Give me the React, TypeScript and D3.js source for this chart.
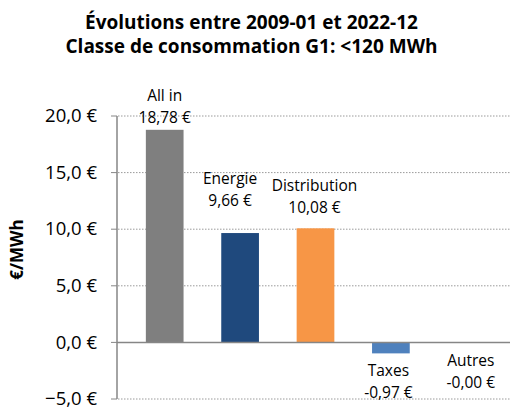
import React from "react";
import * as d3 from "d3";

const categories = ["All in", "Energie", "Distribution", "Taxes", "Autres"];
const values = [18.78, 9.66, 10.08, -0.97, -0.0];
const valueLabels = ["18,78 €", "9,66 €", "10,08 €", "-0,97 €", "-0,00 €"];
const colors = ["#7f7f7f", "#1f497d", "#f79646", "#4f81bd", "#4f81bd"];
const yTicks = [-5, 0, 5, 10, 15, 20];
const titleLines = ["Évolutions entre 2009-01 et 2022-12", "Classe de consommation G1: <120 MWh"];
const yAxisTitle = "€/MWh";

// label placement tweaks (layout only)
const labelDx = [0, -10, -1, -2.5, 4.5];
const labelDy = [-29, -49, -37, 23, 24];

const W = 511;
const H = 410;
const fontFam = "'Open Sans', Lato, sans-serif";

export default function App() {
  const x = d3.scaleBand<string>().domain(categories).range([127, 504]).paddingInner(0.5).paddingOuter(0.25);
  const y = d3.scaleLinear().domain([-5, 20]).range([399, 116]);
  const fmt = (v: number) => d3.format(".1f")(v).replace(".", ",") + " €";
  const bw = x.bandwidth();

  return (
    <svg width={W} height={H} style={{ position: "absolute", left: 0, top: 0, background: "#fff" }} fontFamily={fontFam}>
      {titleLines.map((t, i) => (
        <text key={i} x={251.5} y={28.5 + i * 24} textAnchor="middle" fontWeight="bold" fontSize={19} fill="#000">
          {t}
        </text>
      ))}
      {yTicks.map((t) => (
        <g key={t}>
          {t !== 0 && (
            <line x1={118} x2={510} y1={y(t)} y2={y(t)} stroke="#9a9a9a" strokeWidth={1} strokeDasharray="1.5,1.5" />
          )}
          <line x1={111} x2={117} y1={y(t)} y2={y(t)} stroke="#868686" strokeWidth={1} />
          <text x={97} y={y(t) + 6.2} textAnchor="end" fontSize={18.5} fill="#000">
            {fmt(t)}
          </text>
        </g>
      ))}
      <line x1={117} x2={117} y1={y(20)} y2={y(-5)} stroke="#868686" strokeWidth={1.5} />
      {categories.map((c, i) => {
        const v = values[i];
        const x0 = x(c)!;
        const top = y(Math.max(0, v));
        const bot = y(Math.min(0, v));
        return <rect key={c} x={x0} y={top} width={bw} height={Math.max(0, bot - top)} fill={colors[i]} />;
      })}
      <line x1={117} x2={510} y1={y(0)} y2={y(0)} stroke="#868686" strokeWidth={1.5} />
      {categories.map((c, i) => {
        const v = values[i];
        const cx = x(c)! + bw / 2 + labelDx[i];
        const anchor = v > 0 ? y(v) : y(Math.min(0, v));
        const b1 = anchor + labelDy[i];
        return (
          <g key={c} fontSize={15.5} fill="#000" textAnchor="middle">
            <text x={cx} y={b1}>{c}</text>
            <text x={cx} y={b1 + 22}>{valueLabels[i]}</text>
          </g>
        );
      })}
      <text transform={`translate(23,249.5) rotate(-90)`} textAnchor="middle" fontWeight="bold" fontSize={17} fill="#000">
        {yAxisTitle}
      </text>
    </svg>
  );
}
